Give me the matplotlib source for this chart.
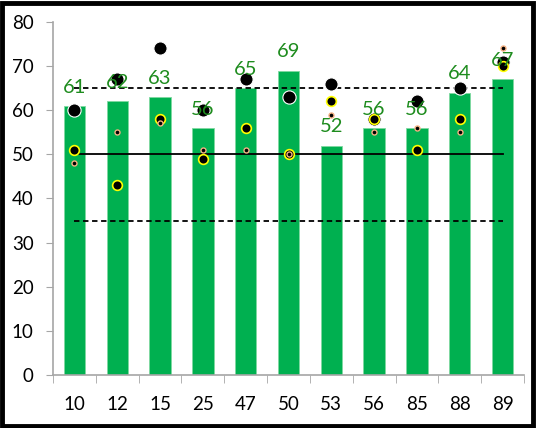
import matplotlib
matplotlib.use("Agg")
import matplotlib.pyplot as plt
from matplotlib.patches import Rectangle
import numpy as np

categories = ["10", "12", "15", "25", "47", "50", "53", "56", "85", "88", "89"]
bar_values = [61, 62, 63, 56, 65, 69, 52, 56, 56, 64, 67]
large_dots = [60, 67, 74, 60, 67, 63, 66, 58, 62, 65, 71]
medium_dots = [51, 43, 58, 49, 56, 50, 62, 58, 51, 58, 70]
small_dots = [48, 55, 57, 51, 51, 50, 59, 55, 56, 55, 74]
upper_ref = [65] * 11
mid_ref = [50] * 11
lower_ref = [35] * 11
y_ticks = [0, 10, 20, 30, 40, 50, 60, 70, 80]

plt.rcParams['font.family'] = ['Lato', 'DejaVu Sans']

fig = plt.figure(figsize=(5.37, 4.28), dpi=100)
ax = fig.add_axes([53/537, 53/428, (524-53)/537, (375-22)/428])

x = np.arange(len(categories))
grey = '#A6A6A6'
ax.bar(x, bar_values, width=0.5, color='#00B050', edgecolor='#7FD9A0', linewidth=0.6, zorder=1)

ax.plot(x, upper_ref, color='black', lw=1.3, ls=(0, (3, 2)), zorder=2)
ax.plot(x, mid_ref, color='black', lw=1.3, ls='-', zorder=2)
ax.plot(x, lower_ref, color='black', lw=1.3, ls=(0, (3, 2)), zorder=2)

ax.plot(x, large_dots, ls='none', marker='o', ms=9.5, mfc='black', mec='white', mew=0.8, zorder=3)
ax.plot(x, medium_dots, ls='none', marker='o', ms=7, mfc='black', mec='#FFFF00', mew=1.2, zorder=4)
ax.plot(x, small_dots, ls='none', marker='o', ms=3.6, mfc='black', mec='#F4B183', mew=1.0, zorder=5)

for xi, v in zip(x, bar_values):
    ax.annotate(str(v), (xi, v), xytext=(0, 9.5), textcoords='offset points',
                ha='center', va='baseline', fontsize=14.5, color='#1E8C1E', zorder=6)

ax.set_xlim(-0.5, len(categories) - 0.5)
ax.set_ylim(0, 80)
ax.set_yticks(y_ticks)
ax.set_xticks(x)
ax.set_xticklabels(categories)
ax.set_xticks(np.arange(-0.5, len(categories), 1.0), minor=True)
ax.tick_params(axis='x', which='major', length=0, pad=15, labelsize=13.5)
ax.tick_params(axis='x', which='minor', length=6, color=grey, direction='out')
ax.tick_params(axis='y', length=5, color=grey, pad=9, labelsize=13.5)

for s in ['top', 'right']:
    ax.spines[s].set_visible(False)
for s in ['left', 'bottom']:
    ax.spines[s].set_color(grey)
    ax.spines[s].set_linewidth(1.2)

fig.patches.append(Rectangle((0.003, 0.004), 0.99, 0.99, transform=fig.transFigure,
                             fill=False, edgecolor='black', linewidth=3.5))

fig.savefig('out.png', dpi=100)
